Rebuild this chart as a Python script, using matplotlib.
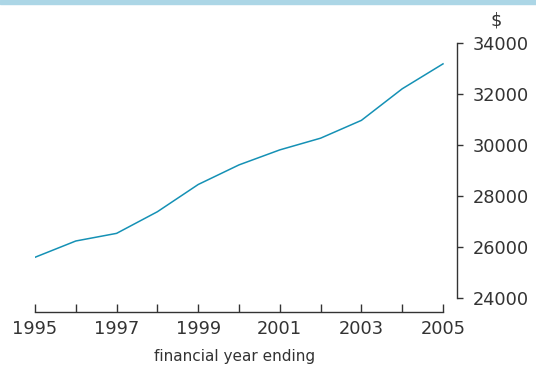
import matplotlib
matplotlib.use("Agg")
import matplotlib.pyplot as plt
from matplotlib.patches import Rectangle

years = [1995, 1996, 1997, 1998, 1999, 2000, 2001, 2002, 2003, 2004, 2005]
income = [25600, 26240, 26540, 27390, 28460, 29230, 29820, 30280, 30980, 32220, 33200]
xticks = [1995, 1996, 1997, 1998, 1999, 2000, 2001, 2002, 2003, 2004, 2005]
xticklabels = ["1995", "", "1997", "", "1999", "", "2001", "", "2003", "", "2005"]
yticks = [24000, 26000, 28000, 30000, 32000, 34000]

TXT = "#333333"
plt.rcParams["font.family"] = ["DejaVu Sans"]

W, H = 536, 365
fig = plt.figure(figsize=(W / 100, H / 100), dpi=100)
fig.patches.append(Rectangle((0, 1 - 4 / H), 1, 4 / H, transform=fig.transFigure,
                             color="#acd6e6", zorder=0))

ax = fig.add_axes([35 / W, (H - 298) / H, 422 / W, 254.5 / H])
ax.plot(years, income, color="#1591b5", lw=1.1)
ax.set_xlim(1995, 1995 + 422 / 40.8)
ax.set_ylim(24000, 34000)

for s in ["left", "top"]:
    ax.spines[s].set_visible(False)
ax.spines["right"].set_bounds(24000, 34000)
ax.spines["bottom"].set_bounds(1995, 2005)
ax.spines["bottom"].set_position(("outward", 10))
for s in ["right", "bottom"]:
    ax.spines[s].set_color(TXT)
    ax.spines[s].set_linewidth(1.0)

ax.yaxis.tick_right()
ax.set_yticks(yticks)
ax.set_yticklabels([str(v) for v in yticks])
ax.tick_params(axis="y", direction="out", length=4, width=1.0, color=TXT,
               labelsize=12.8, labelcolor=TXT, pad=7)
ax.set_xticks(xticks)
ax.set_xticklabels(xticklabels)
ax.tick_params(axis="x", direction="in", length=6, width=1.0, color=TXT,
               labelsize=12.8, labelcolor=TXT, pad=6)
ax.set_xlabel("financial year ending", fontsize=11, color=TXT)
ax.xaxis.set_label_coords(200 / 422, -51 / 254.5)

fig.text(496 / W, 1 - 20 / H, "$", ha="center", va="center", fontsize=12.8, color=TXT)

fig.savefig("out.png", dpi=100)
